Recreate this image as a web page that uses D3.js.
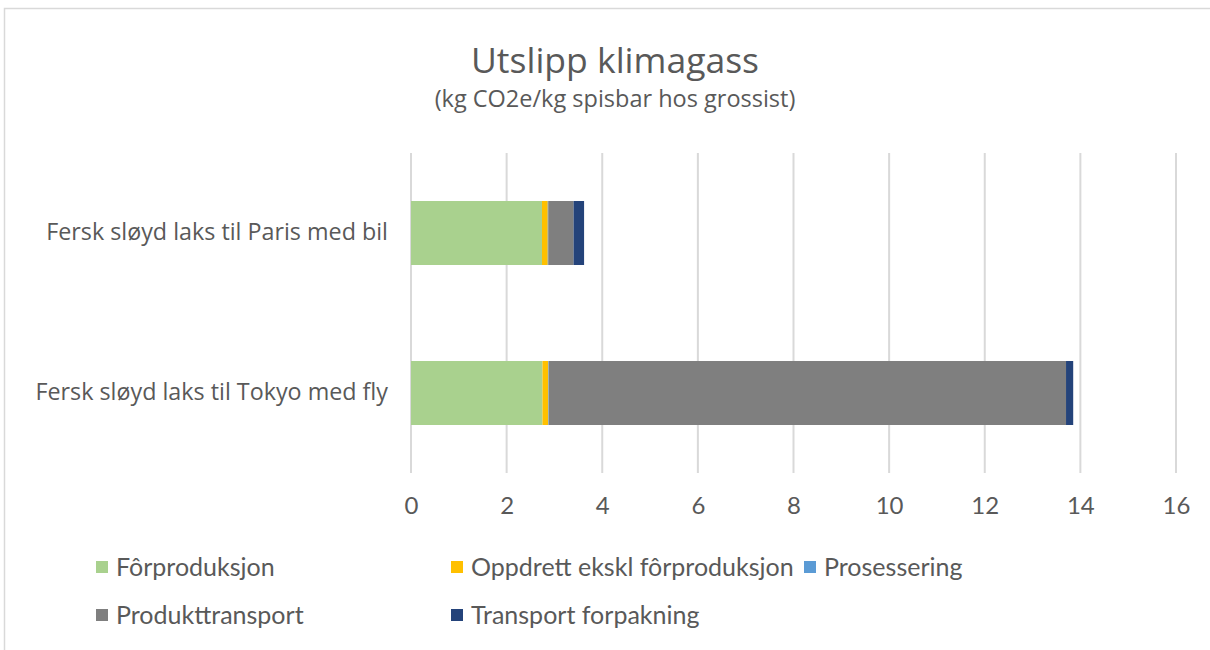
<!DOCTYPE html>
<html>
<head>
<meta charset="utf-8">
<script src="https://cdn.jsdelivr.net/npm/d3@7"></script>
<style>
    body { margin: 0; background: #fff; }
    svg { display: block; }
</style>
</head>
<body>
<svg id="chart" width="1210" height="650"></svg>
<script>
//*************************************************
// Data
//*************************************************
var categories = ['Fersk sløyd laks til Paris med bil', 'Fersk sløyd laks til Tokyo med fly'];
var seriesNames = ['Fôrproduksjon', 'Oppdrett ekskl fôrproduksjon', 'Prosessering', 'Produkttransport', 'Transport forpakning'];
var forproduksjon = [2.74, 2.75];
var oppdrett = [0.12, 0.12];
var prosessering = [0.01, 0.01];
var produkttransport = [0.53, 10.82];
var transportForpakning = [0.22, 0.15];
var tickValues = [0, 2, 4, 6, 8, 10, 12, 14, 16];

var seriesColors = ['#a9d18e', '#ffc000', '#5b9bd5', '#7f7f7f', '#24437a'];
var seriesValues = [forproduksjon, oppdrett, prosessering, produkttransport, transportForpakning];

//*************************************************
// Layout
//*************************************************
var _padding = { left: 411, right: 34, top: 153, bottom: 177 };
var _width = 1210;
var _height = 650;
var __plotWidth = _width - _padding.left - _padding.right;
var __plotHeight = _height - _padding.top - _padding.bottom;
var textColor = '#595959';

var svg = d3.select('#chart');

// chart area border (runs off the right and bottom edge)
svg.append('rect')
    .attr('x', 4.5).attr('y', 8.5)
    .attr('width', 1230).attr('height', 660)
    .attr('fill', '#fff')
    .attr('stroke', '#d9d9d9')
    .attr('stroke-width', 1.5);

// titles
svg.append('text')
    .attr('x', 615).attr('y', 73)
    .attr('text-anchor', 'middle')
    .style('font-family', '"Open Sans", sans-serif')
    .style('font-size', '35.5px')
    .style('fill', textColor)
    .text('Utslipp klimagass');
svg.append('text')
    .attr('x', 615).attr('y', 107)
    .attr('text-anchor', 'middle')
    .style('font-family', '"Open Sans", sans-serif')
    .style('font-size', '23.5px')
    .style('fill', textColor)
    .text('(kg CO2e/kg spisbar hos grossist)');

var rootNode = svg.append('g')
    .attr('transform', 'translate(' + _padding.left + ',' + _padding.top + ')');

//*************************************************
// Scales
//*************************************************
var x = d3.scaleLinear().domain([0, 16]).range([0, __plotWidth]);
var y = d3.scaleBand().domain(categories).range([0, __plotHeight])
    .paddingInner(0.6).paddingOuter(0.3);

// gridlines
rootNode.append('g')
    .selectAll('line')
    .data(tickValues)
    .enter().append('line')
    .attr('x1', function (d){ return x(d); })
    .attr('x2', function (d){ return x(d); })
    .attr('y1', 0)
    .attr('y2', __plotHeight)
    .attr('stroke', '#d9d9d9')
    .attr('stroke-width', 2);

// x axis labels
var xAxis = d3.axisBottom(x).tickValues(tickValues).tickSize(0).tickPadding(24);
var xAxisG = rootNode.append('g')
    .attr('transform', 'translate(0,' + __plotHeight + ')')
    .call(xAxis);
xAxisG.select('.domain').remove();
xAxisG.selectAll('text')
    .style('font-family', 'Lato, sans-serif')
    .style('font-size', '24px')
    .style('fill', textColor);

// y axis labels
var yAxis = d3.axisLeft(y).tickSize(0).tickPadding(23);
var yAxisG = rootNode.append('g').call(yAxis);
yAxisG.select('.domain').remove();
yAxisG.selectAll('text')
    .style('font-family', '"Open Sans", sans-serif')
    .style('font-size', '23.3px')
    .style('fill', textColor);

//*************************************************
// Stacked bars
//*************************************************
var rows = categories.map(function (c, i){
    var row = { category: c };
    seriesNames.forEach(function (s, j){ row[s] = seriesValues[j][i]; });
    return row;
});
var stacked = d3.stack().keys(seriesNames)(rows);

rootNode.append('g')
    .selectAll('g')
    .data(stacked)
    .enter().append('g')
    .attr('fill', function (d, i){ return seriesColors[i]; })
    .selectAll('rect')
    .data(function (d){ return d; })
    .enter().append('rect')
    .attr('x', function (d){ return x(d[0]); })
    .attr('width', function (d){ return x(d[1]) - x(d[0]); })
    .attr('y', function (d){ return y(d.data.category); })
    .attr('height', y.bandwidth());

//*************************************************
// Legend
//*************************************************
var legendPos = [[96, 567], [451, 567], [804, 567], [96, 615], [451, 615]];
var legend = svg.append('g')
    .selectAll('g')
    .data(seriesNames)
    .enter().append('g')
    .attr('transform', function (d, i){ return 'translate(' + legendPos[i][0] + ',' + legendPos[i][1] + ')'; });
legend.append('rect')
    .attr('x', 0).attr('y', -6)
    .attr('width', 12).attr('height', 12)
    .attr('fill', function (d, i){ return seriesColors[i]; });
legend.append('text')
    .attr('x', 20).attr('y', 0)
    .attr('dy', '0.35em')
    .style('font-family', 'Lato, sans-serif')
    .style('font-size', '25px')
    .style('fill', textColor)
    .text(function (d){ return d; });
</script>
</body>
</html>
